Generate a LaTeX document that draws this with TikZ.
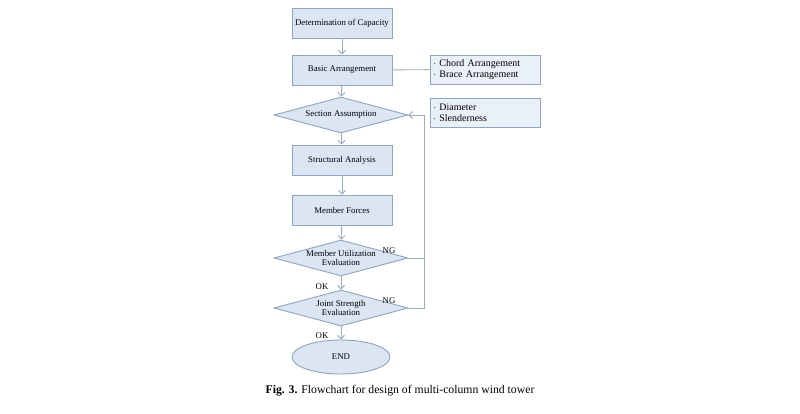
\documentclass[tikz,border=0pt]{standalone}
\usepackage{fontspec}
\setmainfont{Liberation Serif}
\usetikzlibrary{arrows.meta,shapes.geometric}
\definecolor{boxfill}{HTML}{DCE6F2}
\definecolor{boxline}{HTML}{8EA6C4}
\definecolor{flowline}{HTML}{9AAEC6}
\tikzset{
    procbox/.style={draw=boxline, fill=boxfill, thick, minimum width=3cm, minimum height=0.9cm, inner sep=1pt, font=\fontsize{7.5}{8}\selectfont}, % process box
    check/.style={diamond, aspect=3.7, draw=boxline, fill=boxfill, thick, minimum width=4.02cm, minimum height=1.08cm, inner sep=0pt, align=center, font=\fontsize{7.5}{8}\selectfont},
    note/.style={draw=boxline, fill=boxfill!60, thick, minimum width=3.3cm, minimum height=0.87cm, text width=3.1cm, inner sep=2pt, align=left, font=\fontsize{8.5}{9.5}\selectfont},
    flow/.style={draw=flowline, thick, -{Straight Barb[length=3pt,width=6pt]}},
    tag/.style={font=\fontsize{7.5}{8}\selectfont}
}
\begin{document}
\begin{tikzpicture}[x=0.03cm, y=-0.03cm]
    \useasboundingbox (0,0) rectangle (800,413);

    \node[procbox] (cap) at (342,23) {Determination of Capacity};
    \node[procbox] (arr) at (342,70) {Basic Arrangement};
    \node[note] (n1) at (485,69.5) {$\cdot$ Chord Arrangement\\$\cdot$ Brace Arrangement};
    \node[check] (sec) at (341,115) {Section Assumption};
    \node[note] (n2) at (485,113) {$\cdot$ Diameter\\$\cdot$ Slenderness};
    \node[procbox] (ana) at (342,160) {Structural Analysis};
    \node[procbox] (frc) at (342,210) {Member Forces};
    \node[check] (mue) at (341,258) {Member Utilization\\Evaluation};
    \node[check] (jse) at (341,308) {Joint Strength\\Evaluation};
    \node[ellipse, draw=boxline, fill=boxfill, thick, minimum width=2.94cm, minimum height=1.02cm, font=\fontsize{7.5}{8}\selectfont] (end) at (341,357) {END};
    \coordinate (back) at (424,115);

    \draw[flow] (cap) -- (arr);
    \draw[flow] (arr) -- (sec);
    \draw[flow] (sec) -- (ana);
    \draw[flow] (ana) -- (frc);
    \draw[flow] (frc) -- (mue);
    \draw[flow] (mue) -- (jse);
    \draw[flow] (jse) -- (end);
    \draw[draw=flowline, thick] (arr) -- (n1);
    \draw[draw=flowline, thick] (mue.east) -| (back);
    \draw[flow] (jse.east) -| (back) -- (sec.east);

    \node[tag] at (389,251) {NG};
    \node[tag] at (389,301) {NG};
    \node[tag] at (322,287) {OK};
    \node[tag] at (322,336) {OK};
    \node[font=\fontsize{10}{11}\selectfont] (caption) at (400,391) {\textbf{Fig. 3.} Flowchart for design of multi-column wind tower};
\end{tikzpicture}
\end{document}
